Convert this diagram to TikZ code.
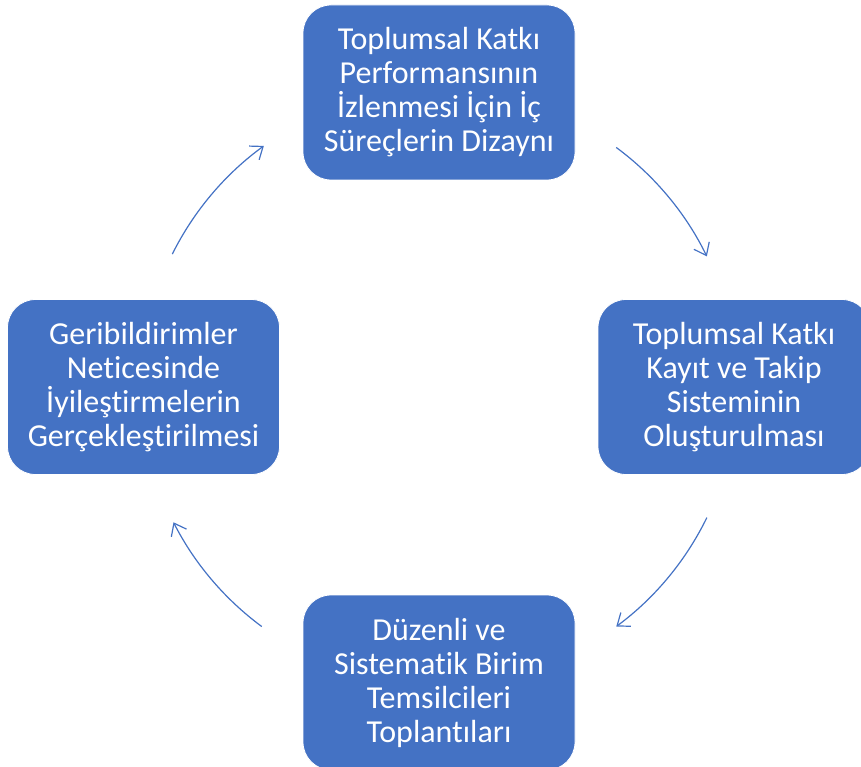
\documentclass[tikz,border=0pt]{standalone}
\usepackage{fontspec}
\setmainfont{Carlito}[Ligatures={NoCommon}]
\usetikzlibrary{arrows.meta}

\definecolor{kutu}{HTML}{4472C4}

\begin{document}
\begin{tikzpicture}[x=1pt,y=-1pt,
  adim/.style={draw=white, line width=0.8pt, fill=kutu, text=white,
    rounded corners=28pt, minimum width=272pt, minimum height=175pt,
    align=center, font=\fontsize{32}{34}\selectfont},
  ok/.style={draw=kutu, line width=1.2pt, -{Straight Barb[length=11pt,width=17pt]}}]

\useasboundingbox (0,0) rectangle (861,767);

\coordinate (m) at (439,387);

\node[adim] (tasarim) at (439,92.5) {Toplumsal Katkı\\Performansının\\İzlenmesi İçin İç\\Süreçlerin Dizaynı};
\node[adim] (kayit) at (734,387) {Toplumsal Katkı\\Kayıt ve Takip\\Sisteminin\\Oluşturulması};
\node[adim] (toplanti) at (439,682.5) {Düzenli ve\\Sistematik Birim\\Temsilcileri\\Toplantıları};
\node[adim] (iyilestirme) at (143.5,387) {Geribildirimler\\Neticesinde\\İyileştirmelerin\\Gerçekleştirilmesi};

% donguyu kuran oklar
\foreach \a/\b in {-53.5/-26, 26/53.5, 126.5/153, 206.5/234}{
	\draw[ok] ([shift={(\a:298)}]m) arc[start angle=\a, end angle=\b, radius=298];
}

\end{tikzpicture}
\end{document}
